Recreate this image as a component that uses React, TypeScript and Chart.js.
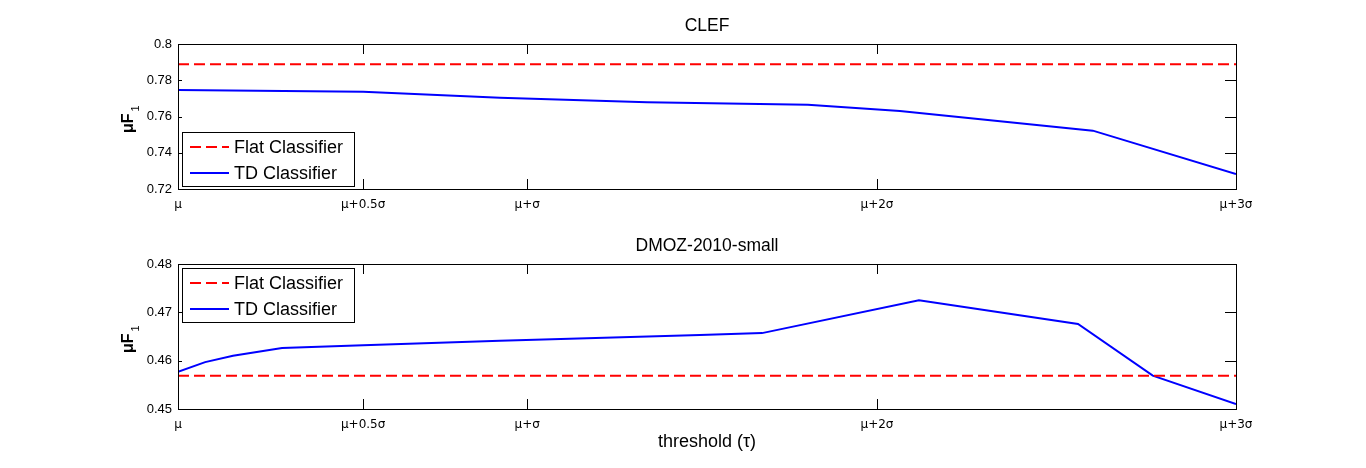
import { useEffect, useRef } from "react";
import { Chart, registerables } from "chart.js";

Chart.register(...registerables);

// Threshold axis: tick positions (in σ units from μ) and their labels
const thresholdTicks = [0, 0.525, 0.99, 1.982, 3];
const thresholdLabels = ["μ", "μ+0.5σ", "μ+σ", "μ+2σ", "μ+3σ"];

// CLEF
const clefX = [0, 0.525, 0.913, 1.33, 1.786, 2.047, 2.594, 3];
const clefTD = [0.7746, 0.7737, 0.7704, 0.7678, 0.7665, 0.763, 0.7522, 0.7283];
const clefFlat = 0.7888;
const clefYTicks = [0.72, 0.74, 0.76, 0.78, 0.8];

// DMOZ-2010-small
const dmozX = [0, 0.077, 0.156, 0.295, 0.525, 0.913, 1.48, 1.656, 2.101, 2.552, 2.764, 3];
const dmozTD = [0.4577, 0.4597, 0.461, 0.4626, 0.4632, 0.4641, 0.4653, 0.4657, 0.4725, 0.4676, 0.4569, 0.451];
const dmozFlat = 0.4569;
const dmozYTicks = [0.45, 0.46, 0.47, 0.48];

const seriesNames = ["Flat Classifier", "TD Classifier"];

const SANS = "Liberation Sans, Arial, Helvetica, sans-serif";

type PanelOpts = {
  title: string;
  xTitle?: string;
  legendAt: "top" | "bottom";
};

// Draws the boxed axes, inward ticks, titles, y label and the legend
const framePlugin = {
  id: "frame",
  afterDatasetsDraw(chart: any, _args: any, opts: PanelOpts) {
    const { ctx, chartArea } = chart;
    const { left, right, top, bottom } = chartArea;
    const xs = chart.scales.x;
    const ys = chart.scales.y;
    ctx.save();
    ctx.strokeStyle = "#000";
    ctx.lineWidth = 1;
    // box
    ctx.strokeRect(Math.round(left) + 0.5, Math.round(top) + 0.5, Math.round(right - left), Math.round(bottom - top));
    ctx.beginPath();
    // x ticks (bottom and top, inward)
    xs.ticks.forEach((t: any) => {
      const px = Math.round(xs.getPixelForValue(t.value)) + 0.5;
      ctx.moveTo(px, bottom);
      ctx.lineTo(px, bottom - 10);
      ctx.moveTo(px, top);
      ctx.lineTo(px, top + 10);
    });
    // y ticks (left short, right longer, inward)
    ys.ticks.forEach((t: any) => {
      const py = Math.round(ys.getPixelForValue(t.value)) + 0.5;
      ctx.moveTo(left, py);
      ctx.lineTo(left + 4, py);
      ctx.moveTo(right, py);
      ctx.lineTo(right - 11, py);
    });
    ctx.stroke();

    // title
    ctx.fillStyle = "#000";
    ctx.font = `17.5px ${SANS}`;
    ctx.textAlign = "center";
    ctx.textBaseline = "middle";
    ctx.fillText(opts.title, (left + right) / 2, top - 18);

    if (opts.xTitle) {
      ctx.font = `18px ${SANS}`;
      ctx.fillText(opts.xTitle, (left + right) / 2, bottom + 33);
    }

    // y label: μF with subscript 1, rotated
    const mid = (top + bottom) / 2;
    ctx.save();
    ctx.translate(left - 45, mid + 16.5);
    ctx.rotate(-Math.PI / 2);
    ctx.textAlign = "left";
    ctx.textBaseline = "alphabetic";
    ctx.font = `bold 16px ${SANS}`;
    ctx.fillText("μF", 0, 0);
    const w = ctx.measureText("μF").width;
    ctx.font = `11px ${SANS}`;
    ctx.fillText("1", w + 2, 6);
    ctx.restore();

    // legend
    const boxW = 172;
    const boxH = 54;
    const bx = Math.round(left) + 4;
    const by = opts.legendAt === "bottom" ? Math.round(bottom) - 3 - boxH : Math.round(top) + 4;
    ctx.fillStyle = "#fff";
    ctx.fillRect(bx, by, boxW, boxH);
    ctx.strokeStyle = "#000";
    ctx.lineWidth = 1;
    ctx.strokeRect(bx + 0.5, by + 0.5, boxW, boxH);
    const datasets = chart.data.datasets;
    datasets.forEach((ds: any, i: number) => {
      const ry = by + 15 + i * 26;
      ctx.beginPath();
      ctx.strokeStyle = ds.borderColor;
      ctx.lineWidth = 2;
      ctx.setLineDash(ds.borderDash || []);
      ctx.moveTo(bx + 8, ry);
      ctx.lineTo(bx + 47, ry);
      ctx.stroke();
      ctx.setLineDash([]);
      ctx.fillStyle = "#000";
      ctx.font = `18px ${SANS}`;
      ctx.textAlign = "left";
      ctx.textBaseline = "middle";
      ctx.fillText(ds.label, bx + 52, ry + 1);
    });
    ctx.restore();
  },
};

function buildConfig(
  xs: number[],
  td: number[],
  flat: number,
  yTicks: number[],
  panel: PanelOpts,
  padTop: number,
  padBottom: number
): any {
  const yMin = yTicks[0];
  const yMax = yTicks[yTicks.length - 1];
  return {
    type: "line",
    data: {
      datasets: [
        {
          label: seriesNames[0],
          data: [
            { x: thresholdTicks[0], y: flat },
            { x: thresholdTicks[thresholdTicks.length - 1], y: flat },
          ],
          borderColor: "#ff0000",
          borderWidth: 2,
          borderDash: [11, 5],
          pointRadius: 0,
          tension: 0,
        },
        {
          label: seriesNames[1],
          data: xs.map((x, i) => ({ x, y: td[i] })),
          borderColor: "#0000ff",
          borderWidth: 2,
          pointRadius: 0,
          tension: 0,
        },
      ],
    },
    options: {
      animation: false,
      responsive: false,
      events: [],
      layout: { padding: { left: 0, right: 130, top: padTop, bottom: padBottom } },
      plugins: {
        legend: { display: false },
        tooltip: { enabled: false },
        title: { display: false },
        frame: panel,
      },
      scales: {
        x: {
          type: "linear",
          min: thresholdTicks[0],
          max: thresholdTicks[thresholdTicks.length - 1],
          grid: { display: false, drawTicks: false },
          border: { display: false },
          afterBuildTicks: (scale: any) => {
            scale.ticks = thresholdTicks.map((v) => ({ value: v }));
          },
          afterFit: (scale: any) => {
            scale.height = 22;
          },
          ticks: {
            autoSkip: false,
            maxRotation: 0,
            padding: 9,
            color: "#000",
            font: { family: "DejaVu Sans", size: 12 },
            callback: (v: number) => {
              const i = thresholdTicks.indexOf(v);
              return i >= 0 ? thresholdLabels[i] : "";
            },
          },
        },
        y: {
          type: "linear",
          min: yMin,
          max: yMax,
          grid: { display: false, drawTicks: false },
          border: { display: false },
          afterBuildTicks: (scale: any) => {
            scale.ticks = yTicks.map((v) => ({ value: v }));
          },
          afterFit: (scale: any) => {
            scale.width = 178;
          },
          ticks: {
            padding: 6,
            color: "#000",
            font: { family: SANS, size: 13 },
            callback: (v: number) => String(parseFloat(v.toFixed(3))),
          },
        },
      },
    },
    plugins: [framePlugin],
  };
}

function Panel(props: { config: any; top: number; height: number }) {
  const ref = useRef<HTMLCanvasElement | null>(null);
  useEffect(() => {
    if (!ref.current) return;
    const chart = new Chart(ref.current, props.config);
    return () => chart.destroy();
  }, [props.config]);
  return (
    <canvas
      ref={ref}
      width={1366}
      height={props.height}
      style={{ position: "absolute", left: 0, top: props.top, width: 1366, height: props.height }}
    />
  );
}

const topConfig = buildConfig(clefX, clefTD, clefFlat, clefYTicks, { title: "CLEF", legendAt: "bottom" }, 44, 230 - 189 - 22);
const bottomConfig = buildConfig(
  dmozX,
  dmozTD,
  dmozFlat,
  dmozYTicks,
  { title: "DMOZ-2010-small", xTitle: "threshold (τ)", legendAt: "top" },
  264 - 230,
  238 - (409 - 230) - 22
);

export default function App() {
  return (
    <div style={{ position: "fixed", left: 0, top: 0, width: 1366, height: 468, background: "#fff" }}>
      <Panel config={topConfig} top={0} height={230} />
      <Panel config={bottomConfig} top={230} height={238} />
    </div>
  );
}
